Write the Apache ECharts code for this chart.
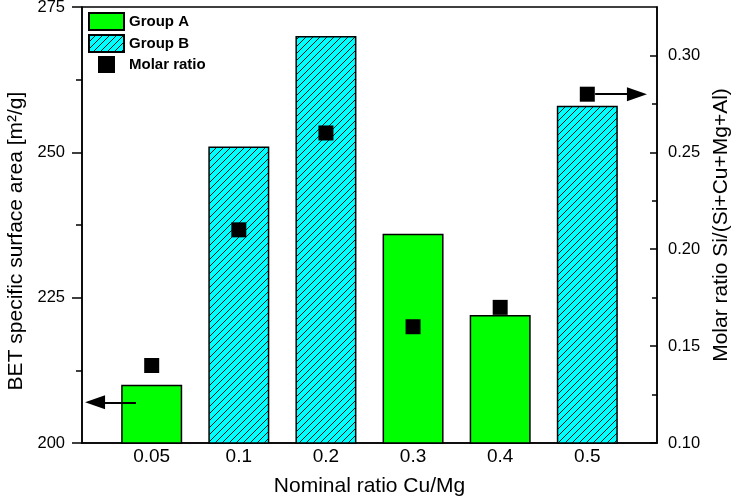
<!DOCTYPE html>
<html><head><meta charset="utf-8">
<script src="https://cdn.jsdelivr.net/npm/echarts@6/dist/echarts.min.js"></script>
<style>html,body{margin:0;padding:0;background:#fff}#c{width:737px;height:500px}</style>
</head><body><div id="c"></div>
<script>
const categories = ['0.05', '0.1', '0.2', '0.3', '0.4', '0.5'];
const positions = [1, 2, 3, 4, 5, 6];
const betArea = [210, 251, 270, 236, 222, 258];
const groups = ['A', 'B', 'B', 'A', 'A', 'B'];
const molarRatio = [0.14, 0.21, 0.26, 0.16, 0.17, 0.28];
const rightMinorTicks = [0.125, 0.175, 0.225, 0.275];
const leftArrow = { y: 207, from: 0.82, to: 0.35 };
const rightArrow = { y: 0.28, from: 6.09, to: 6.57 };

const FONT = 'Liberation Sans, Arial, sans-serif';

function hatch() {
  const s = 7;
  const c = document.createElement('canvas');
  c.width = s; c.height = s;
  const g = c.getContext('2d');
  g.fillStyle = '#00FFFF'; g.fillRect(0, 0, s, s);
  g.strokeStyle = '#000'; g.lineWidth = 0.9;
  g.beginPath();
  g.moveTo(0, s); g.lineTo(s, 0);
  g.moveTo(-1, 1); g.lineTo(1, -1);
  g.moveTo(s - 1, s + 1); g.lineTo(s + 1, s - 1);
  g.stroke();
  return c;
}

const dataA = [], dataB = [];
positions.forEach((p, i) => {
  (groups[i] === 'A' ? dataA : dataB).push([p, betArea[i]]);
});
const molarData = positions.map((p, i) => [p, molarRatio[i]]);

const chart = echarts.init(document.getElementById('c'), null, { renderer: 'canvas' });
const axisFont = { color: '#000', fontFamily: FONT, fontSize: 16.5 };
const xAxisFont = { color: '#000', fontFamily: FONT, fontSize: 19 };
const nameFont = { color: '#000', fontFamily: FONT, fontSize: 21 };
const arrowLine = (a) => ({
  silent: true, symbol: ['none', 'none'], label: { show: false },
  lineStyle: { color: '#000', width: 2, type: 'solid', opacity: 1 },
  itemStyle: { color: '#000', opacity: 1 },
  emphasis: { disabled: true },
  data: [[
    { coord: [a.from, a.y], symbol: 'none' },
    { coord: [a.to, a.y], symbol: 'triangle', symbolSize: [14, 20] }
  ]]
});

chart.setOption({
  animation: false,
  backgroundColor: '#fff',
  grid: { left: 82, right: 80, top: 7, bottom: 57, show: true, borderColor: '#000', borderWidth: 1.5, backgroundColor: 'transparent', outerBoundsMode: 'none' },
  legend: {
    orient: 'vertical', left: 88, top: 12, padding: 0, itemGap: 3,
    itemWidth: 35, itemHeight: 17,
    textStyle: { color: '#000', fontFamily: FONT, fontSize: 15, fontWeight: 'bold' },
    data: [
      { name: 'Group A', icon: 'rect' },
      { name: 'Group B', icon: 'rect' },
      { name: 'Molar ratio', icon: 'path://M0,0H10V10H0Z' }
    ],
    symbolKeepAspect: true
  },
  xAxis: {
    type: 'value', min: 0.2, max: 6.8,
    name: 'Nominal ratio Cu/Mg', nameLocation: 'middle', nameGap: 33, nameTextStyle: nameFont,
    axisLine: { show: true, lineStyle: { color: '#000', width: 1.5 } },
    axisTick: { show: false },
    splitLine: { show: false },
    axisLabel: Object.assign({ margin: 4, customValues: positions, formatter: v => categories[Math.round(v) - 1] }, xAxisFont)
  },
  yAxis: [
    {
      type: 'value', min: 200, max: 275, interval: 25, position: 'left',
      name: 'BET specific surface area [m²/g]', nameLocation: 'middle', nameGap: 54,
      nameTextStyle: Object.assign({ padding: [0, 32, 0, 0] }, nameFont),
      axisLine: { show: true, lineStyle: { color: '#000', width: 1.5 } },
      axisTick: { show: true, inside: false, length: 10, lineStyle: { color: '#000', width: 1.5 } },
      minorTick: { show: true, splitNumber: 2, length: 6, lineStyle: { color: '#000', width: 1.5 } },
      splitLine: { show: false },
      axisLabel: Object.assign({ margin: 17 }, axisFont)
    },
    {
      type: 'value', min: 0.1, max: 0.325, interval: 0.05, position: 'right',
      name: 'Molar ratio Si/(Si+Cu+Mg+Al)', nameLocation: 'middle', nameGap: 53, nameTextStyle: nameFont,
      axisLine: { show: true, lineStyle: { color: '#000', width: 1.5 } },
      axisTick: { show: true, inside: true, length: 7, lineStyle: { color: '#000', width: 1.5 } },
      minorTick: { show: false },
      splitLine: { show: false },
      axisLabel: Object.assign({ margin: 11, showMaxLabel: false, formatter: v => v.toFixed(2) }, axisFont)
    },
    {
      type: 'value', min: 0.1, max: 0.325, position: 'right',
      axisLine: { show: false },
      axisTick: { show: true, inside: true, length: 5, customValues: rightMinorTicks, lineStyle: { color: '#000', width: 1.5 } },
      axisLabel: { show: false },
      splitLine: { show: false }
    }
  ],
  series: [
    {
      name: 'Group A', type: 'bar', data: dataA, barWidth: 61, barGap: '-100%',
      itemStyle: { color: '#00FF00', borderColor: '#000', borderWidth: 1.5, opacity: 1 }
    },
    {
      name: 'Group B', type: 'bar', data: dataB, barWidth: 61, barGap: '-100%',
      itemStyle: { color: { image: hatch(), repeat: 'repeat' }, borderColor: '#000', borderWidth: 1.5, opacity: 1 },
      markLine: arrowLine(leftArrow)
    },
    {
      name: 'Molar ratio', type: 'scatter', yAxisIndex: 1, data: molarData,
      symbol: 'rect', symbolSize: 15, z: 5,
      itemStyle: { color: '#000', opacity: 1 },
      markLine: arrowLine(rightArrow)
    }
  ]
});
</script>
</body></html>
